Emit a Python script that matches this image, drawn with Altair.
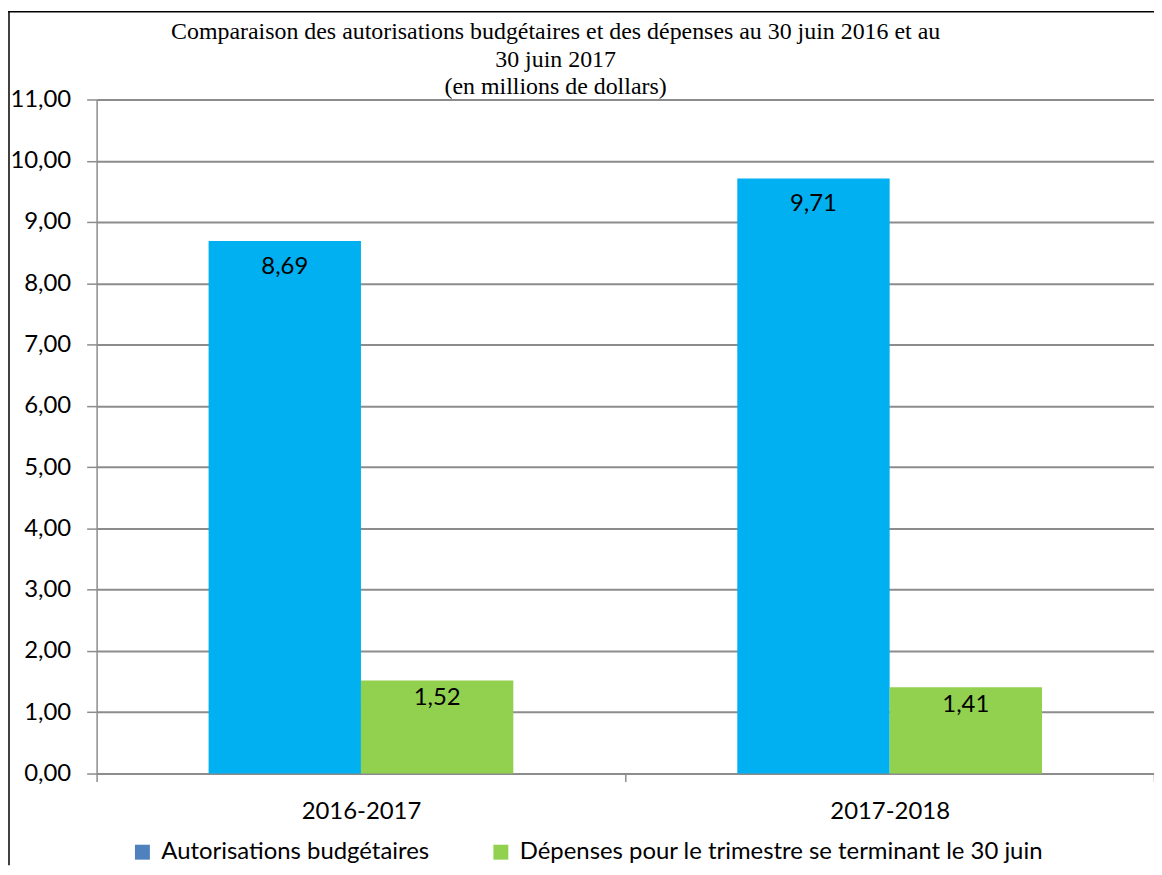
import altair as alt
import pandas as pd

periods = ["2016-2017", "2017-2018"]
series = ["Autorisations budgétaires", "Dépenses pour le trimestre se terminant le 30 juin"]
autorisations = [8.69, 9.71]
depenses = [1.52, 1.41]
y_ticks = [0, 1, 2, 3, 4, 5, 6, 7, 8, 9, 10, 11]
title_lines = [
    "Comparaison des autorisations budgétaires et des dépenses au 30 juin 2016 et au",
    "30 juin 2017",
    "(en millions de dollars)",
]

rows = []
for p, a, d in zip(periods, autorisations, depenses):
    rows.append({"period": p, "series": series[0], "value": a})
    rows.append({"period": p, "series": series[1], "value": d})
df = pd.DataFrame(rows)
df["label"] = df["value"].map(lambda v: f"{v:.2f}".replace(".", ","))

FONT = "Lato"
FS = 24
W, H = 1062, 677
GRID = "#8c8c8c"

x_enc = alt.X(
    "period:N", sort=periods,
    scale=alt.Scale(domain=periods, paddingInner=0, paddingOuter=0),
    axis=alt.Axis(title=None, labelAngle=0, tickBand="extent", grid=False,
                  tickSize=8, labelPadding=30, labelBaseline="middle",
                  domainColor=GRID, tickColor=GRID, domainWidth=2, tickWidth=1.5),
)
xo_enc = alt.XOffset("series:N", sort=series,
                     scale=alt.Scale(domain=series, paddingInner=0, paddingOuter=0.735))
y_enc = alt.Y(
    "value:Q",
    scale=alt.Scale(domain=[0, 11], nice=False),
    axis=alt.Axis(title=None, values=y_ticks,
                  labelExpr="replace(format(datum.value, '.2f'), '.', ',')",
                  grid=True, gridColor=GRID, gridWidth=2,
                  tickSize=10, labelPadding=16, domainColor=GRID, tickColor=GRID,
                  domainWidth=1.5, tickWidth=1.5),
)

base = alt.Chart(df)

bars = base.mark_bar().encode(
    x=x_enc, xOffset=xo_enc, y=y_enc,
    fill=alt.Fill("series:N", sort=series,
                  scale=alt.Scale(domain=series, range=["#00B0F0", "#92D050"]),
                  legend=None),
)

text_a = base.transform_filter(alt.datum.series == series[0]).mark_text(
    dy=26, fontSize=FS, font=FONT, color="black"
).encode(x=x_enc, xOffset=xo_enc, y=y_enc, text="label:N")

text_d = base.transform_filter(alt.datum.series == series[1]).mark_text(
    dy=18, fontSize=FS, font=FONT, color="black"
).encode(x=x_enc, xOffset=xo_enc, y=y_enc, text="label:N")

legend_pts = base.mark_point(shape="square", filled=True, opacity=0).encode(
    x=x_enc, y=y_enc,
    color=alt.Color("series:N", sort=series,
                    scale=alt.Scale(domain=series, range=["#4F81BD", "#92D050"]),
                    legend=alt.Legend(
                        title=None, orient="none", legendX=34, legendY=744,
                        direction="horizontal", symbolType="square", symbolSize=225,
                        symbolOpacity=1, symbolStrokeWidth=0, labelOffset=7,
                        labelFont=FONT, labelFontSize=FS, labelColor="black",
                        columnPadding=59, labelLimit=0,
                    )),
)

one = pd.DataFrame({"b": [0]})
border_left = alt.Chart(one).mark_rule(color="black", strokeWidth=1.5).encode(
    x=alt.value(-88), y=alt.value(-88), y2=alt.value(769)
)
border_top = alt.Chart(one).mark_rule(color="black", strokeWidth=1.5).encode(
    x=alt.value(-89), x2=alt.value(W), y=alt.value(-88)
)
title = alt.Chart(one).mark_text(
    text=title_lines, font="Liberation Serif", fontSize=24, lineHeight=28,
    baseline="middle", align="center", color="black"
).encode(x=alt.value(461), y=alt.value(-68))

chart = alt.layer(bars, text_a, text_d, legend_pts, border_left, border_top, title).resolve_scale(
    color="independent", fill="independent"
).properties(
    width=W, height=H,
    autosize=alt.AutoSizeParams(type="none"),
    padding={"left": 89, "top": 90, "right": 0, "bottom": 92},
).configure_view(stroke=None).configure_axis(
    labelFont=FONT, labelFontSize=FS, labelColor="black"
)

chart.save("out.html", embed_options={"renderer": "svg", "actions": False})
